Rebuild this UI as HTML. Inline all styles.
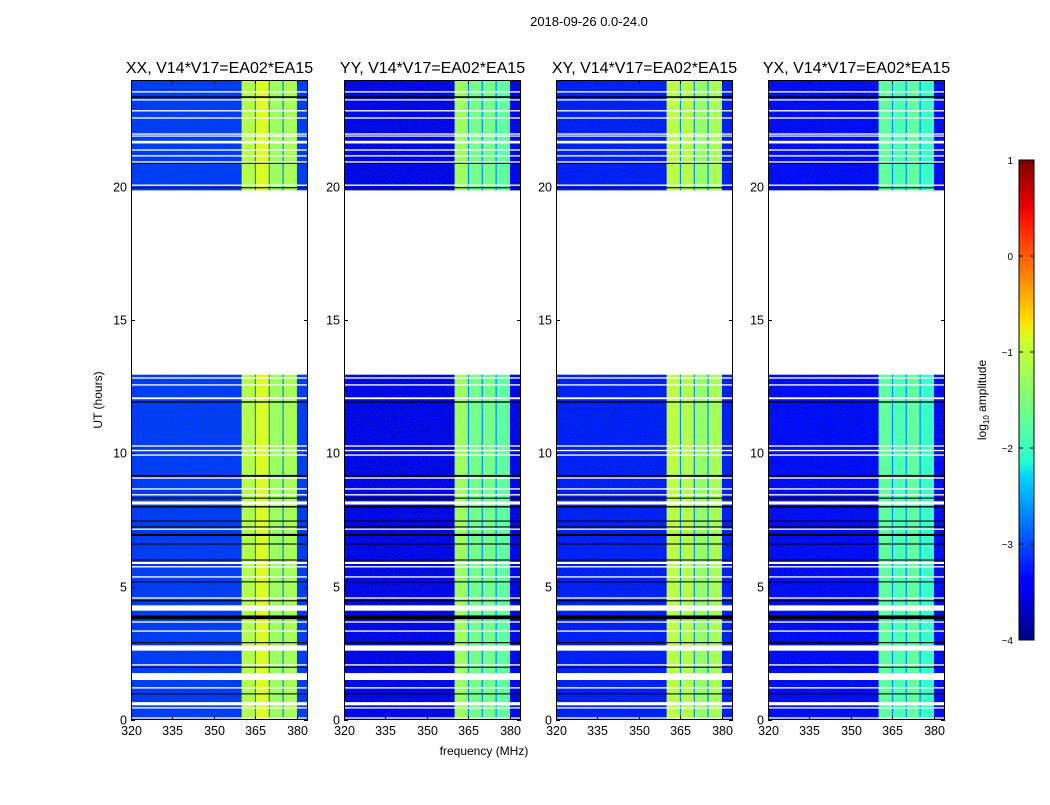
<!DOCTYPE html>
<html><head><meta charset="utf-8">
<style>
html,body{margin:0;padding:0;background:#fff;}
svg text{font-family:"Liberation Sans","DejaVu Sans",sans-serif;fill:#000;}
</style></head>
<body>
<svg id="fig" width="1050" height="800" viewBox="0 0 1050 800" xmlns="http://www.w3.org/2000/svg">
<rect width="1050" height="800" fill="#fff"/>
<text x="589" y="26" font-size="13" text-anchor="middle">2018-09-26 0.0-24.0</text>
<text x="484" y="755" font-size="12" text-anchor="middle">frequency (MHz)</text>
<text transform="translate(102,400) rotate(-90)" font-size="12" text-anchor="middle">UT (hours)</text>
<defs>
<linearGradient id="jet" x1="0" y1="1" x2="0" y2="0">
<stop offset="0" stop-color="#00007f"/><stop offset="0.11" stop-color="#0000ff"/>
<stop offset="0.125" stop-color="#0000ff"/><stop offset="0.34" stop-color="#00d4ff"/>
<stop offset="0.375" stop-color="#29ffce"/><stop offset="0.5" stop-color="#7dff7a"/>
<stop offset="0.625" stop-color="#ceff29"/><stop offset="0.66" stop-color="#ffe500"/>
<stop offset="0.875" stop-color="#ff1400"/><stop offset="0.9" stop-color="#ee0000"/><stop offset="1" stop-color="#7f0000"/>
</linearGradient>
<filter id="speck" x="0" y="0" width="100%" height="100%">
<feTurbulence type="fractalNoise" baseFrequency="0.9" numOctaves="1" seed="3" result="n"/>
<feColorMatrix in="n" type="matrix" values="0 0 0 0 0  0 0 0 0 0.2  0 0 0 0 0.1  0 0 0 1.2 -0.55" result="m"/>
<feComposite in="m" in2="SourceGraphic" operator="in"/>
</filter>
</defs>
<g id="panels"></g>
<rect x="1019" y="160" width="15" height="480" fill="url(#jet)" stroke="#000" stroke-width="1"/>
<g id="cbticks"></g>
<text transform="translate(986,400) rotate(-90)" font-size="12" text-anchor="middle">log<tspan font-size="8" dy="3">10</tspan><tspan dy="-3"> amplitude</tspan></text>
</svg>
<script>
// ---- data ----
const panelTitles = ["XX, V14*V17=EA02*EA15","YY, V14*V17=EA02*EA15","XY, V14*V17=EA02*EA15","YX, V14*V17=EA02*EA15"];
const subbandEdges = [360, 365, 370, 375, 380]; // MHz
const backgroundLevel = [-3.1, -3.45, -3.25, -3.35];   // log10 amplitude
const subbandLevels = [
  [-1.25, -1.05, -1.35, -1.3],
  [-1.35, -1.55, -1.55, -1.65],
  [-1.2, -1.25, -1.4, -1.3],
  [-1.65, -1.75, -1.65, -1.85]
];
const gapLevel = -2.7;
const xTicks = [320, 335, 350, 365, 380];
const yTicks = [0, 5, 10, 15, 20];
const cbTicks = [1, 0, -1, -2, -3, -4];
// flagged (white) intervals [startHour, endHour]
const whiteFlags = [[12.95,19.80],[23.53,23.58],[23.23,23.28],[22.82,22.87],[22.55,22.6],[21.95,22.0],[21.88,21.92],[21.62,21.72],[21.35,21.4],[21.13,21.18],[20.9,20.95],[20.03,20.08],[19.80,19.86],
 [12.8,12.85],[12.54,12.59],[12.03,12.1],[10.25,10.3],[10.08,10.13],[9.91,9.96],[9.05,9.1],[8.64,8.69],[8.42,8.47],[8.08,8.2],[7.13,7.18],[5.85,5.93],[5.72,5.77],[5.34,5.39],[4.55,4.6],[4.1,4.3],[3.65,3.7],[3.31,3.36],[2.6,2.8],[2.04,2.09],[1.5,1.76],[1.18,1.23],[0.55,0.67],[0.43,0.48],[0.05,0.1]];
// zero-amplitude (black) intervals
const blackFlags = [[23.33,23.39],[20.86,20.9],[19.94,19.98],[11.9,11.95],[9.12,9.19],[8.3,8.34],[7.97,8.02],[7.44,7.48],[7.22,7.26],[6.9,6.98],[6.58,6.62],[5.98,6.02],[5.16,5.2],[4.45,4.49],[3.78,3.92],[2.88,2.92],[1.96,2.0],[0.96,1.0]];
// ---- drawing ----
const NS="http://www.w3.org/2000/svg";
function jet(v){
  let t=(v+4)/5; t=Math.max(0,Math.min(1,t));
  const c=x=>Math.round(255*Math.max(0,Math.min(1,x)));
  const r=1.5-Math.abs(4*t-3), g=1.5-Math.abs(4*t-2), b=1.5-Math.abs(4*t-1);
  return `rgb(${c(r)},${c(g)},${c(b)})`;
}
function el(tag,attrs,parent){const e=document.createElementNS(NS,tag);for(const k in attrs)e.setAttribute(k,attrs[k]);parent.appendChild(e);return e;}
const panelX=[131,344,556,768], PW=177, PT=80, PB=720;
const fMin=320, fMax=384, tMin=0, tMax=24;
const g=document.getElementById('panels');
panelX.forEach((x0,p)=>{
  const xs=f=>x0+(f-fMin)/(fMax-fMin)*PW;
  const ys=t=>PB-(t-tMin)/(tMax-tMin)*(PB-PT);
  const pg=el('g',{},g);
  
  
  const bg=el('rect',{x:x0,y:PT,width:PW,height:PB-PT,fill:jet(backgroundLevel[p])},pg);
  
  
  const sp=el('rect',{x:x0,y:PT,width:PW,height:PB-PT,fill:'#000',filter:'url(#speck)'},pg);
  
  
  for(let i=0;i<subbandEdges.length-1;i++){
    const r=el('rect',{x:xs(subbandEdges[i]),y:PT,width:xs(subbandEdges[i+1])-xs(subbandEdges[i]),height:PB-PT,fill:jet(subbandLevels[p][i])},pg);
    
    
    if(i>0){
      const gr=el('rect',{x:xs(subbandEdges[i])-0.6,y:PT,width:1.2,height:PB-PT,fill:jet(gapLevel)},pg);
      
      
    }
  }
  blackFlags.forEach(([a,b])=>{
    const r=el('rect',{x:x0,y:ys(b),width:PW,height:Math.max(1,ys(a)-ys(b)),fill:'#000'},pg);
    
    
  });
  whiteFlags.forEach(([a,b])=>{
    const r=el('rect',{x:x0,y:ys(b),width:PW,height:Math.max(1.2,ys(a)-ys(b)),fill:'#fff'},pg);
    
    
  });
  const fr=el('rect',{x:x0+0.5,y:PT+0.5,width:PW-1,height:PB-PT-1,fill:'none',stroke:'#000','stroke-width':1},pg);
  
  
  const tt=el('text',{x:x0+PW/2,y:PT-7,'font-size':16,'text-anchor':'middle'},pg);
  tt.textContent=panelTitles[p];
  
  
  xTicks.forEach(v=>{
    const x=Math.round(xs(v))+0.5;
    el('line',{x1:x,x2:x,y1:PB,y2:PB-4,stroke:'#000'},pg);
    el('line',{x1:x,x2:x,y1:PT,y2:PT+4,stroke:'#000'},pg);
    const t=el('text',{x:x,y:PB+15,'font-size':12.5,'text-anchor':'middle'},pg);
    t.textContent=v;
    
    
  });
  yTicks.forEach(v=>{
    const y=Math.round(ys(v))+0.5;
    el('line',{x1:x0,x2:x0+4,y1:y,y2:y,stroke:'#000'},pg);
    el('line',{x1:x0+PW,x2:x0+PW-4,y1:y,y2:y,stroke:'#000'},pg);
    const t=el('text',{x:x0-4,y:y+4,'font-size':12.5,'text-anchor':'end'},pg);
    t.textContent=v;
    
    
  });
});
const cb=document.getElementById('cbticks');
cbTicks.forEach(v=>{
  const y=640-(v+4)/5*480;
  el('line',{x1:1019,x2:1023,y1:y,y2:y,stroke:'#000'},cb);
  el('line',{x1:1034,x2:1030,y1:y,y2:y,stroke:'#000'},cb);
  const t=el('text',{x:1013,y:y+4,'font-size':10,'text-anchor':'end'},cb);
  t.textContent=v<0?'\u2212'+(-v):v;
  
  
});
</script>
</body></html>
